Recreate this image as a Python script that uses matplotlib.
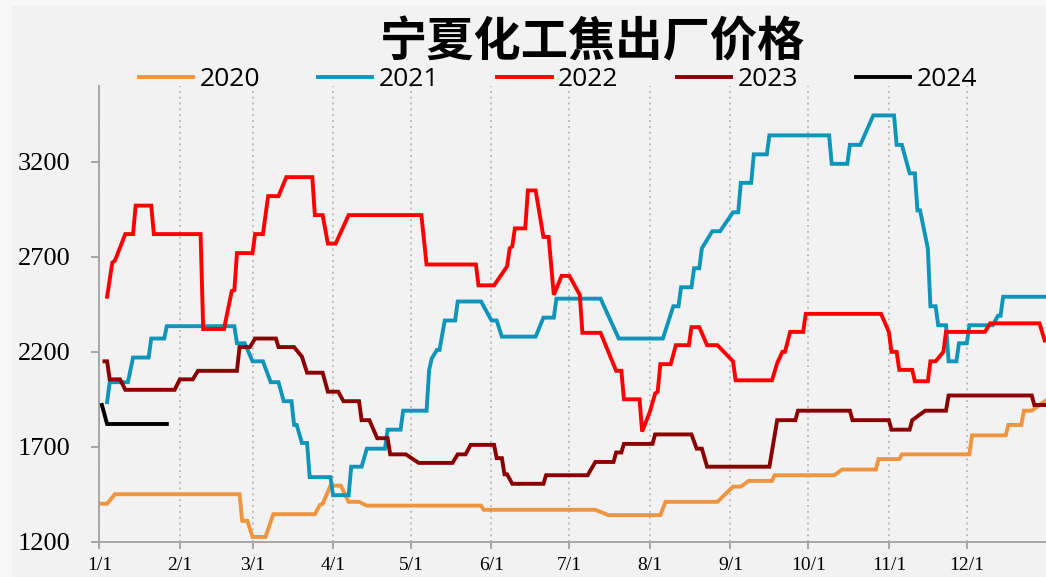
import matplotlib
matplotlib.use("Agg")
import matplotlib.pyplot as plt
from matplotlib.patches import Rectangle

# Day of year (0 = Jan 1) and price for each year at the turning points
days_2020 = [1, 3, 6, 54, 55, 57, 59, 64, 67, 83, 85, 86, 89, 93, 96, 100, 103, 147, 148, 191, 196,
             216, 218, 238, 244, 247, 250, 259, 260, 283, 286, 299, 300, 308, 309, 335, 336, 349,
             350, 355, 356, 359, 364]
price_2020 = [1400, 1400, 1450, 1450, 1310, 1310, 1225, 1225, 1345, 1345, 1395, 1400, 1495, 1495,
              1410, 1410, 1390, 1390, 1368, 1368, 1340, 1340, 1410, 1410, 1490, 1490, 1520, 1520,
              1550, 1550, 1580, 1580, 1635, 1635, 1660, 1660, 1760, 1760, 1815, 1815, 1890, 1890, 1940]

days_2021 = [3, 4, 11, 13, 19, 20, 25, 26, 52, 53, 56, 59, 63, 66, 69, 71, 74, 75, 76, 78, 80, 81,
             89, 90, 96, 97, 101, 103, 110, 111, 116, 117, 126, 127, 128, 130, 131, 133, 137, 138,
             147, 151, 153, 155, 168, 171, 175, 176, 193, 200, 217, 221, 223, 224, 228, 229, 231,
             232, 236, 239, 244, 246, 247, 251, 252, 257, 258, 281, 282, 288, 289, 293, 298, 306,
             307, 309, 312, 314, 315, 316, 319, 320, 322, 323, 326, 327, 330, 331, 334, 335, 344,
             346, 347, 348, 364]
price_2021 = [1935, 2040, 2040, 2170, 2170, 2270, 2270, 2335, 2335, 2245, 2245, 2150, 2150, 2040,
              2040, 1940, 1940, 1815, 1815, 1720, 1720, 1540, 1540, 1445, 1445, 1595, 1595, 1690,
              1690, 1790, 1790, 1890, 1890, 2105, 2165, 2210, 2210, 2365, 2365, 2465, 2465, 2365,
              2365, 2280, 2280, 2380, 2380, 2480, 2480, 2270, 2270, 2440, 2440, 2540, 2540, 2640,
              2640, 2745, 2835, 2835, 2935, 2935, 3090, 3090, 3240, 3240, 3340, 3340, 3190, 3190,
              3290, 3290, 3445, 3445, 3290, 3290, 3140, 3140, 2945, 2945, 2745, 2440, 2440, 2340,
              2340, 2150, 2150, 2245, 2245, 2340, 2340, 2390, 2390, 2490, 2490]

days_2022 = [3, 5, 6, 10, 13, 14, 20, 21, 39, 40, 48, 51, 52, 53, 59, 60, 63, 65, 69, 72, 82, 83,
             86, 88, 91, 96, 124, 126, 145, 146, 152, 157, 158, 159, 160, 164, 165, 168, 171, 173,
             175, 178, 181, 185, 186, 193, 199, 201, 202, 208, 209, 212, 214, 215, 216, 220, 222,
             227, 228, 231, 234, 238, 244, 245, 259, 261, 263, 264, 266, 271, 272, 301, 304, 305,
             307, 308, 313, 314, 319, 320, 322, 325, 326, 341, 343, 362, 364]
price_2022 = [2490, 2670, 2680, 2820, 2820, 2970, 2970, 2820, 2820, 2320, 2320, 2520, 2525, 2720,
              2720, 2820, 2820, 3020, 3020, 3120, 3120, 2920, 2920, 2770, 2770, 2920, 2920, 2660,
              2660, 2550, 2550, 2650, 2745, 2755, 2850, 2850, 3050, 3050, 2805, 2805, 2500, 2600,
              2600, 2500, 2300, 2300, 2100, 2100, 1950, 1950, 1780, 1885, 1980, 1990, 2135, 2135,
              2235, 2235, 2330, 2330, 2235, 2235, 2150, 2050, 2050, 2140, 2200, 2200, 2305, 2305,
              2400, 2400, 2305, 2200, 2200, 2105, 2105, 2045, 2045, 2150, 2150, 2200, 2305, 2305,
              2350, 2350, 2260]

days_2023 = [2, 3, 4, 8, 10, 29, 31, 36, 38, 53, 54, 58, 60, 68, 69, 75, 78, 80, 86, 88, 92, 94,
             100, 101, 104, 107, 111, 112, 118, 123, 136, 138, 141, 143, 152, 153, 155, 156, 157,
             159, 171, 172, 188, 191, 198, 199, 201, 202, 213, 214, 228, 230, 232, 234, 258, 261,
             268, 269, 289, 290, 304, 305, 312, 313, 318, 326, 327, 359, 360, 364]
price_2023 = [2150, 2150, 2055, 2055, 2000, 2000, 2055, 2055, 2100, 2100, 2225, 2225, 2270, 2270,
              2225, 2225, 2175, 2090, 2090, 1990, 1990, 1940, 1940, 1840, 1840, 1745, 1745, 1660,
              1660, 1615, 1615, 1660, 1660, 1710, 1710, 1640, 1640, 1555, 1555, 1505, 1505, 1550,
              1550, 1620, 1620, 1670, 1670, 1715, 1715, 1765, 1765, 1690, 1690, 1595, 1595, 1840,
              1840, 1890, 1890, 1840, 1840, 1790, 1790, 1840, 1890, 1890, 1970, 1970, 1920, 1920]

days_2024 = [1, 3, 26]
price_2024 = [1920, 1820, 1820]

month_starts = [0, 31, 59, 90, 120, 151, 181, 212, 243, 273, 304, 334]
month_labels = ["1/1", "2/1", "3/1", "4/1", "5/1", "6/1", "7/1", "8/1", "9/1", "10/1", "11/1", "12/1"]
y_ticks = [1200, 1700, 2200, 2700, 3200]

series = [
    ("2020", days_2020, price_2020, "#f0953f"),
    ("2021", days_2021, price_2021, "#0e95b9"),
    ("2022", days_2022, price_2022, "#ff0000"),
    ("2023", days_2023, price_2023, "#8b0000"),
    ("2024", days_2024, price_2024, "#000000"),
]

fig = plt.figure(figsize=(10.46, 5.77), dpi=100, facecolor="#f8f8f8")
# slightly darker panel behind everything, like the source export
fig.patches.append(Rectangle((12 / 1046, 0), 1, 1 - 6 / 577, transform=fig.transFigure,
                             facecolor="#f2f2f2", edgecolor="none", zorder=-10))

ax = fig.add_axes([99.3 / 1046, 35.3 / 577, 1 - 99.3 / 1046, (541.7 - 86) / 577])
ax.set_facecolor("#f2f2f2")

for label, d, p, c in series:
    ax.plot(d, p, color=c, linewidth=2.8, label=label, solid_joinstyle="miter", zorder=3)

ax.set_xlim(0, 364.5)
ax.set_ylim(1200, 3600)

# dotted month gridlines
ax.set_xticks(month_starts)
ax.set_xticklabels(month_labels, fontfamily="Liberation Serif", fontsize=14)
ax.set_yticks(y_ticks)
ax.set_yticklabels([str(v) for v in y_ticks], fontfamily="Liberation Serif", fontsize=19)
ax.grid(axis="x", color="#bcbcbc", linestyle=(0, (1, 2)), linewidth=1.4, zorder=1)

for side in ["top", "right"]:
    ax.spines[side].set_visible(False)
for side in ["left", "bottom"]:
    ax.spines[side].set_color("#a6a6a6")
    ax.spines[side].set_linewidth(1.4)
ax.tick_params(axis="y", direction="out", length=6, width=1.4, color="#a6a6a6", pad=15)
ax.tick_params(axis="x", direction="out", length=5, width=1.4, color="#a6a6a6", pad=6)

fig.text(592 / 1046, 1 - 42 / 577, "宁夏化工焦出厂价格", ha="center", va="center",
         fontsize=34, fontfamily="Noto Sans CJK SC", fontweight="bold")

fig.legend(loc="center", bbox_to_anchor=(558 / 1046, 1 - 80 / 577), ncol=5, frameon=False,
           prop={"family": "Open Sans", "size": 19}, handlelength=2.05, handletextpad=0.25,
           columnspacing=2.2, borderpad=0, borderaxespad=0)

fig.savefig("out.png", dpi=100, facecolor=fig.get_facecolor())
